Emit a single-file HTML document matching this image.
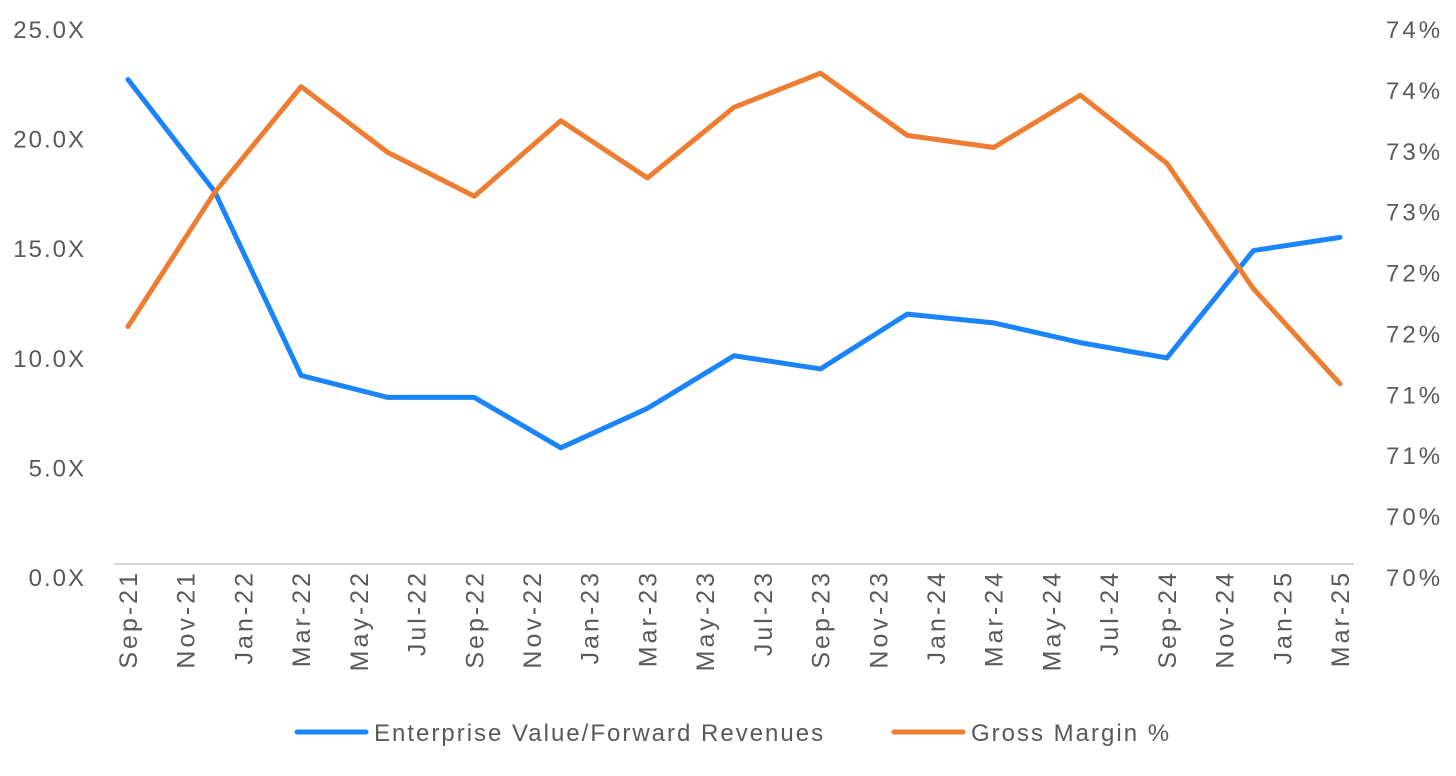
<!DOCTYPE html>
<html><head><meta charset="utf-8"><style>
body{margin:0;background:#fff;}
svg text{font-family:"Liberation Sans",sans-serif;fill:#595959;}
</style></head><body>
<svg id="c" width="1456" height="771"></svg>
<script>
const categories=["Sep-21","Nov-21","Jan-22","Mar-22","May-22","Jul-22","Sep-22","Nov-22","Jan-23","Mar-23","May-23","Jul-23","Sep-23","Nov-23","Jan-24","Mar-24","May-24","Jul-24","Sep-24","Nov-24","Jan-25","Mar-25"];
const pointMonths=[0,3,6,9,12,15,18,21,24,27,30,33,36,39,42];
const evRevenue=[22.1,17.0,8.6,7.6,7.6,5.3,7.1,9.5,8.9,11.4,11.0,10.1,9.4,14.3,14.9];
const grossMargin=[71.95,73.05,73.92,73.38,73.02,73.64,73.17,73.75,74.03,73.52,73.42,73.85,73.29,72.26,71.48];
const leftTicks=[0,5,10,15,20,25];
const leftLabels=["0.0X","5.0X","10.0X","15.0X","20.0X","25.0X"];
const rightTicks=[70,70.5,71,71.5,72,72.5,73,73.5,74,74.5];
const rightLabels=["70%","70%","71%","71%","72%","72%","73%","73%","74%","74%"];
const NS="http://www.w3.org/2000/svg";
const svg=document.getElementById('c');
const x0=128,x1=1340,yB=564,yT=16;
const xm=m=>x0+(x1-x0)*m/42;
const yl=v=>yB-(yB-yT)*v/25;
const yr=v=>yB-(yB-yT)*(v-70)/4.5;
function el(t,a,txt){const e=document.createElementNS(NS,t);for(const k in a)e.setAttribute(k,a[k]);if(txt!=null)e.textContent=txt;svg.appendChild(e);return e;}
let ax=el('line',{x1:114,x2:1354,y1:yB,y2:yB,stroke:'#d9d9d9','stroke-width':2});


leftTicks.forEach((v,i)=>{const t=el('text',{x:86,y:yl(v)+22,'text-anchor':'end','font-size':24,'letter-spacing':2},leftLabels[i]);

});
rightTicks.forEach((v,i)=>{const t=el('text',{x:1386,y:yr(v)+22,'text-anchor':'start','font-size':24,'letter-spacing':3},rightLabels[i]);

});
categories.forEach((c,i)=>{const x=xm(i*2);const t=el('text',{x:0,y:0,'text-anchor':'end','font-size':25,'letter-spacing':3,transform:`translate(${x+9},570) rotate(-90)`},c);

});
let p1=el('polyline',{points:pointMonths.map((m,i)=>xm(m)+','+yl(evRevenue[i])).join(' '),fill:'none',stroke:'#1a84fb','stroke-width':5,'stroke-linejoin':'round','stroke-linecap':'round'});


let p2=el('polyline',{points:pointMonths.map((m,i)=>xm(m)+','+yr(grossMargin[i])).join(' '),fill:'none',stroke:'#ed7d31','stroke-width':5,'stroke-linejoin':'round','stroke-linecap':'round'});


let l1=el('line',{x1:297,x2:366,y1:732,y2:732,stroke:'#1a84fb','stroke-width':5,'stroke-linecap':'round'});


let t1=el('text',{x:374,y:741,'font-size':24,'letter-spacing':2},'Enterprise Value/Forward Revenues');


let l2=el('line',{x1:894,x2:963,y1:732,y2:732,stroke:'#ed7d31','stroke-width':5,'stroke-linecap':'round'});


let t2=el('text',{x:971,y:741,'font-size':24,'letter-spacing':2},'Gross Margin %');


</script>
</body></html>
